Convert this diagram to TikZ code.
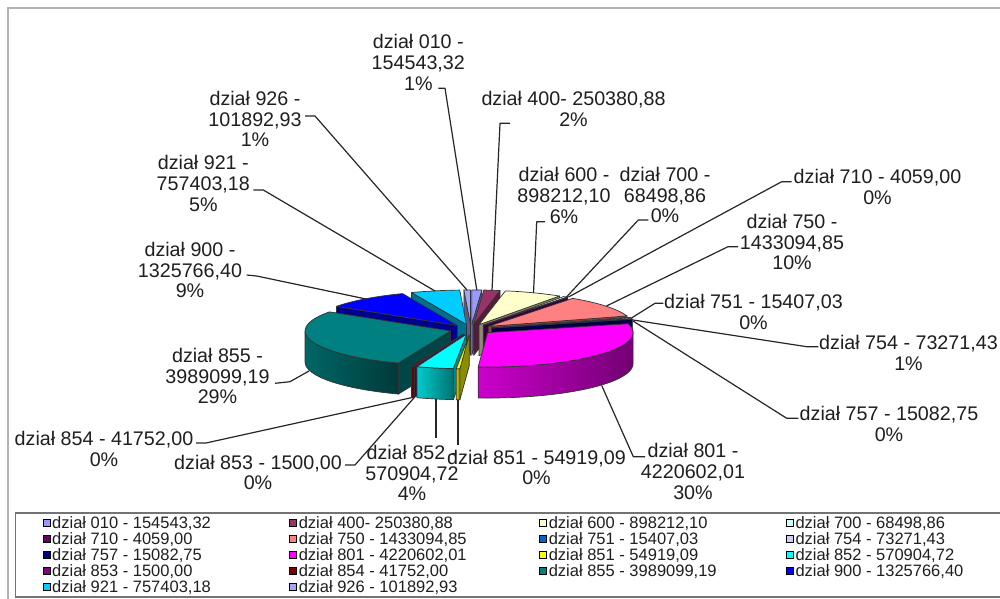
\documentclass[tikz,border=0pt]{standalone}
\usepackage{fontspec}
\setmainfont{Liberation Sans}
\definecolor{c010}{HTML}{9999FF}
\definecolor{c400}{HTML}{993366}
\definecolor{c600}{HTML}{FFFFCC}
\definecolor{c700}{HTML}{CCFFFF}
\definecolor{c710}{HTML}{660066}
\definecolor{c750}{HTML}{FF8080}
\definecolor{c751}{HTML}{0066CC}
\definecolor{c754}{HTML}{CCCCFF}
\definecolor{c757}{HTML}{000080}
\definecolor{c801}{HTML}{FF00FF}
\definecolor{c851}{HTML}{FFFF00}
\definecolor{c852}{HTML}{00FFFF}
\definecolor{c853}{HTML}{800080}
\definecolor{c854}{HTML}{800000}
\definecolor{c855}{HTML}{008080}
\definecolor{c900}{HTML}{0000FF}
\definecolor{c921}{HTML}{00CCFF}
\definecolor{c926}{HTML}{A6A6F2}
\definecolor{pieedge}{HTML}{333333}
\tikzset{
  lab/.style={font=\fontsize{19.7}{20.8}\selectfont, align=center, inner sep=0pt, text=black!88},
  lead/.style={draw=black!85, line width=1.2pt, line join=round},
  legtxt/.style={font=\fontsize{16.5}{16.5}\selectfont, anchor=west, inner sep=0pt, text=black!88},
  legmark/.style={draw=black, line width=0.8pt, minimum size=7pt, inner sep=0pt},
  pietop/.style={draw=pieedge, line width=0.7pt, line join=round},
  piewall/.style={draw=pieedge, line width=0.7pt, line join=round},
}
% #1 start angle (larger), #2 end angle (smaller), #3 colour
\newcommand\pieslice[3]{%
  \pgfmathsetmacro\slM{(#1+#2)/2}%
  \pgfmathsetmacro\slX{471+21.5*cos(\slM)}%
  \pgfmathsetmacro\slY{268.6+5.08*sin(\slM)}%
  \pgfmathtruncatemacro\slWa{cos(#1)<0}%
  \pgfmathtruncatemacro\slWb{cos(#2)>0}%
  \pgfmathsetmacro\slSa{min(#1,0)}%
  \pgfmathsetmacro\slSb{max(#2,-180)}%
  \pgfmathtruncatemacro\slHs{\slSa>\slSb}%
  \ifnum\slWa=1
    \filldraw[piewall, fill=#3!55!black] (\slX,\slY) -- ++(#1:145.5pt and 34.4pt) -- ++(0,-31) -- (\slX,\slY-31) -- cycle;
  \fi
  \ifnum\slWb=1
    \filldraw[piewall, fill=#3!55!black] (\slX,\slY) -- ++(#2:145.5pt and 34.4pt) -- ++(0,-31) -- (\slX,\slY-31) -- cycle;
  \fi
  \ifnum\slHs=1
    \pgfmathsetmacro\slPx{\slX+145.5*cos(\slSa)}%
    \pgfmathsetmacro\slPy{\slY+34.4*sin(\slSa)}%
    \path[draw=pieedge, line width=0.7pt, left color=#3!80!black, right color=#3!45!black]
      (\slPx,\slPy) arc[start angle=\slSa, end angle=\slSb, x radius=145.5pt, y radius=34.4pt]
      -- ++(0,-31) arc[start angle=\slSb, end angle=\slSa, x radius=145.5pt, y radius=34.4pt] -- cycle;
  \fi
  \filldraw[pietop, fill=#3] (\slX,\slY) -- ++(#1:145.5pt and 34.4pt)
    arc[start angle=#1, end angle=#2, x radius=145.5pt, y radius=34.4pt] -- cycle;
}
\begin{document}
\begin{tikzpicture}[x=1pt,y=1pt]
\useasboundingbox (0,0) rectangle (1000,598);
\clip (0,0) rectangle (1000,598);
\fill[white] (0,0) rectangle (1000,598);
% chart frame
\draw[black!30, line width=2pt] (8,-5) -- (8,590) -- (1010,590);
% legend box
\draw[black!55, line width=1.2pt] (15.5,1) rectangle (1010,85);

% pie, back to front
\pieslice{-267.38}{-270}{c926}
\pieslice{90}{86.02}{c010}
\pieslice{86.02}{79.57}{c400}
\pieslice{-247.87}{-267.38}{c921}
\pieslice{79.57}{56.43}{c600}
\pieslice{56.43}{54.67}{c700}
\pieslice{54.67}{54.57}{c710}
\pieslice{-213.72}{-247.87}{c900}
\pieslice{54.57}{17.66}{c750}
\pieslice{17.66}{17.26}{c751}
\pieslice{17.26}{15.37}{c754}
\pieslice{15.37}{14.98}{c757}
\pieslice{-110.97}{-213.72}{c855}
\pieslice{14.98}{-93.73}{c801}
\pieslice{-109.89}{-110.97}{c854}
\pieslice{-109.85}{-109.89}{c853}
\pieslice{-95.15}{-109.85}{c852}
\pieslice{-93.73}{-95.15}{c851}

% data labels
\node[lab] (l010) at (418.3,535.3) {dział 010 -\\154543,32\\1\%};
\node[lab] (l400) at (573.5,489) {dział 400- 250380,88\\2\%};
\node[lab] (l926) at (255,479) {dział 926 -\\101892,93\\1\%};
\node[lab] (l921) at (203.3,414.5) {dział 921 -\\757403,18\\5\%};
\node[lab] (l600) at (564,402.5) {dział 600 -\\898212,10\\6\%};
\node[lab] (l700) at (665,403) {dział 700 -\\68498,86\\0\%};
\node[lab] (l710) at (877.5,411) {dział 710 - 4059,00\\0\%};
\node[lab] (l750) at (792,356) {dział 750 -\\1433094,85\\10\%};
\node[lab] (l900) at (190,328) {dział 900 -\\1325766,40\\9\%};
\node[lab] (l751) at (753.5,286.3) {dział 751 - 15407,03\\0\%};
\node[lab] (l754) at (908.5,245) {dział 754 - 73271,43\\1\%};
\node[lab] (l855) at (217.5,222) {dział 855 -\\3989099,19\\29\%};
\node[lab] (l757) at (889,174) {dział 757 - 15082,75\\0\%};
\node[lab] (l801) at (693,126.3) {dział 801 -\\4220602,01\\30\%};
\node[lab] (l852) at (412,125) {dział 852 -\\570904,72\\4\%};
\node[lab] (l851) at (536.5,130.5) {dział 851 - 54919,09\\0\%};
\node[lab] (l853) at (258,125.5) {dział 853 - 1500,00\\0\%};
\node[lab] (l854) at (104,149) {dział 854 - 41752,00\\0\%};

% leader ends
\coordinate (t010) at (438.3,509.7); \coordinate (p010) at (476.8,308);
\coordinate (t400) at (510,474.7);   \coordinate (p400) at (492,307.5);
\coordinate (t926) at (305,482);     \coordinate (p926) at (467,308);
\coordinate (t921) at (253.3,408);   \coordinate (p921) at (435,307);
\coordinate (t600) at (545,376.3);   \coordinate (p600) at (533.5,305);
\coordinate (t700) at (648.3,378);   \coordinate (p700) at (566,300.5);
\coordinate (t710) at (791.7,416.3); \coordinate (p710) at (568.5,301);
\coordinate (t750) at (738,351.3);   \coordinate (p750) at (606.5,292);
\coordinate (t751) at (663.3,294.7); \coordinate (p751) at (631.5,280);
\coordinate (t754) at (818.3,251.3); \coordinate (p754) at (633,278);
\coordinate (t757) at (798.3,179.7); \coordinate (p757) at (633,277);
\coordinate (t801) at (645,141.3);   \coordinate (p801) at (601.7,212.5);
\coordinate (t900) at (246.7,323);   \coordinate (p900) at (366,299);
\coordinate (t855) at (275,214.7);   \coordinate (p855) at (309,227);
\coordinate (t854) at (196,155);     \coordinate (p854) at (412.7,200.6);
\coordinate (t853) at (345,133);     \coordinate (p853) at (414.3,200.5);
\coordinate (t852) at (436,160);     \coordinate (p852) at (436,199);
\coordinate (t851) at (458,153);     \coordinate (p851) at (458,198);

\draw[lead] (t010) -- ++(6.7,0) -- (p010);
\draw[lead] (t400) -- ++(-10,0) -- (p400);
\draw[lead] (t926) -- ++(10,0) -- (p926);
\draw[lead] (t921) -- ++(10,0) -- (p921);
\draw[lead] (t600) -- ++(-8.3,0) -- (p600);
\draw[lead] (t700) -- ++(-10,0) -- (p700);
\draw[lead] (t710) -- ++(-10,0) -- (p710);
\draw[lead] (t750) -- ++(-10,0) -- (p750);
\draw[lead] (t751) -- ++(-8.3,0) -- (p751);
\draw[lead] (t754) -- ++(-11.6,0) -- (p754);
\draw[lead] (t757) -- ++(-11.6,0) -- (p757);
\draw[lead] (t801) -- ++(-11.7,0) -- (p801);
\draw[lead] (t900) -- ++(10,-1) -- (p900);
\draw[lead] (t855) -- ++(15,1.6) -- (p855);
\draw[lead] (t854) -- ++(10,0) -- (p854);
\draw[lead] (t853) -- ++(10,0) -- (p853);
\draw[lead] (t852) -- (p852);
\draw[lead] (t851) -- (p851);

% legend
\foreach \k/\mx/\yy/\txt in {
  010/46.5/74.7/{dział 010 - 154543,32}, 400/293.1/74.7/{dział 400- 250380,88},
  600/543.1/74.7/{dział 600 - 898212,10}, 700/789.8/74.7/{dział 700 - 68498,86},
  710/46.5/58.7/{dział 710 - 4059,00}, 750/293.1/58.7/{dział 750 - 1433094,85},
  751/543.1/58.7/{dział 751 - 15407,03}, 754/789.8/58.7/{dział 754 - 73271,43},
  757/46.5/42.7/{dział 757 - 15082,75}, 801/293.1/42.7/{dział 801 - 4220602,01},
  851/543.1/42.7/{dział 851 - 54919,09}, 852/789.8/42.7/{dział 852 - 570904,72},
  853/46.5/26.7/{dział 853 - 1500,00}, 854/293.1/26.7/{dział 854 - 41752,00},
  855/543.1/26.7/{dział 855 - 3989099,19}, 900/789.8/26.7/{dział 900 - 1325766,40},
  921/46.5/10.7/{dział 921 - 757403,18}, 926/293.1/10.7/{dział 926 - 101892,93}}
{
  \node[legmark, fill=c\k] (m\k) at (\mx,\yy) {};
  \node[legtxt] (g\k) at (\mx+5.5,\yy) {\txt};
}
\end{tikzpicture}
\end{document}
